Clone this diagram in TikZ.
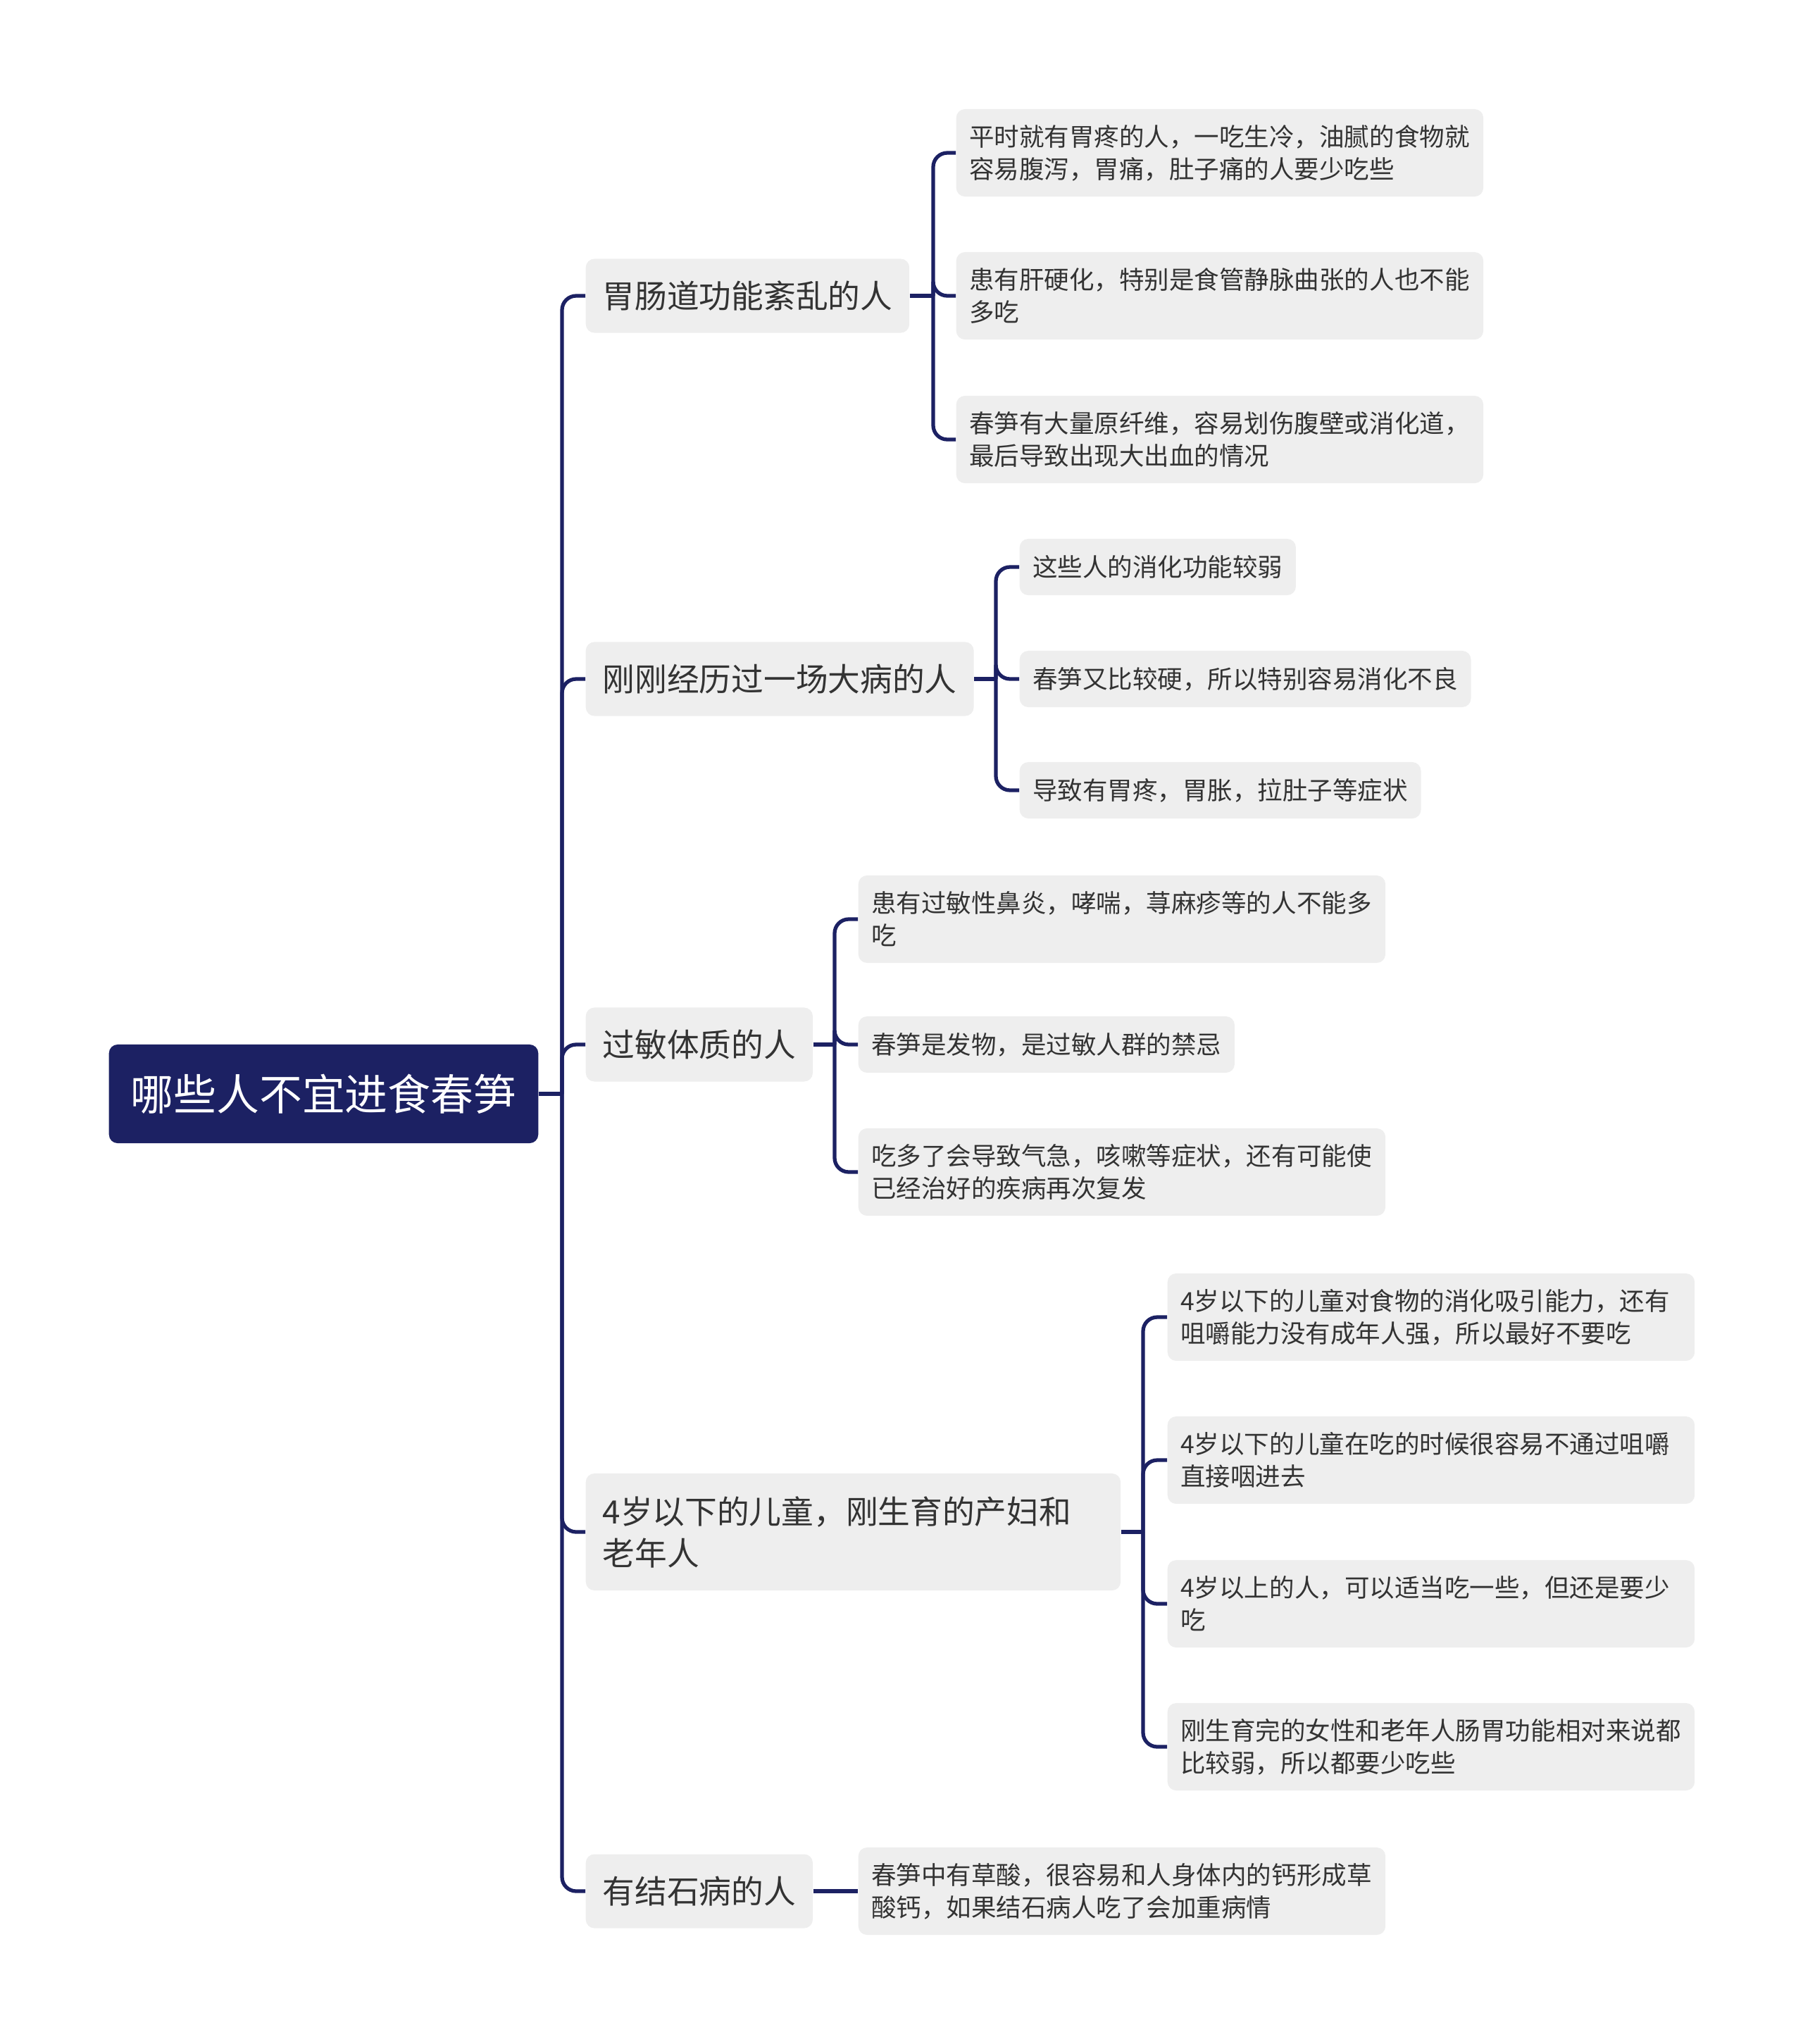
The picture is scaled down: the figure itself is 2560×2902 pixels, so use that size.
\documentclass[tikz,border=0pt]{standalone}
\usepackage{fontspec}
\setmainfont{Noto Sans CJK SC}
\usetikzlibrary{positioning}

\definecolor{navy}{HTML}{1C2163}
\definecolor{boxgray}{HTML}{EEEEEE}
\definecolor{inkgray}{HTML}{333333}

\begin{document}
\begin{tikzpicture}[x=0.01cm, y=-0.01cm,
	topic/.style={anchor=west, fill=navy, text=white, rounded corners=3.5pt, inner xsep=0.31cm, minimum height=1.4cm, font=\fontsize{17.3pt}{21pt}\selectfont},
	branch/.style={anchor=west, fill=boxgray, text=inkgray, rounded corners=3.5pt, inner xsep=0.24cm, minimum height=1.05cm, font=\fontsize{13pt}{16.8pt}\selectfont},
	leaf/.style={anchor=west, fill=boxgray, text=inkgray, rounded corners=3.5pt, inner xsep=0.185cm, minimum height=0.8cm, font=\fontsize{10.1pt}{13.1pt}\selectfont},
	wide/.style={text width=7.11cm, align=left, minimum height=1.24cm},
	link/.style={draw=navy, line width=1.5pt, rounded corners=0.2cm}]
			\useasboundingbox (0,0) rectangle (2560,2902);
			
			% Central topic
			\node (root) at (154,1553) [topic] {哪些人不宜进食春笋};
			
			% First level
			\node (g1) at (831,420) [branch] {胃肠道功能紊乱的人};
			\node (g2) at (831,964) [branch] {刚刚经历过一场大病的人};
			\node (g3) at (831,1483) [branch] {过敏体质的人};
			\node (g4) at (831,2175) [branch, wide, minimum height=1.66cm] {4岁以下的儿童，刚生育的产妇和\\老年人};
			\node (g5) at (831,2685) [branch] {有结石病的人};
			
			% Leaves of g1
			\node (g1a) at (1357,217) [leaf, wide] {平时就有胃疼的人，一吃生冷，油腻的食物就\\容易腹泻，胃痛，肚子痛的人要少吃些};
			\node (g1b) at (1357,420) [leaf, wide] {患有肝硬化，特别是食管静脉曲张的人也不能\\多吃};
			\node (g1c) at (1357,624) [leaf, wide] {春笋有大量原纤维，容易划伤腹壁或消化道，\\最后导致出现大出血的情况};
			
			% Leaves of g2
			\node (g2a) at (1447,805) [leaf] {这些人的消化功能较弱};
			\node (g2b) at (1447,964) [leaf] {春笋又比较硬，所以特别容易消化不良};
			\node (g2c) at (1447,1122) [leaf] {导致有胃疼，胃胀，拉肚子等症状};
			
			% Leaves of g3
			\node (g3a) at (1218,1305) [leaf, wide] {患有过敏性鼻炎，哮喘，荨麻疹等的人不能多\\吃};
			\node (g3b) at (1218,1483) [leaf] {春笋是发物，是过敏人群的禁忌};
			\node (g3c) at (1218,1664) [leaf, wide] {吃多了会导致气急，咳嗽等症状，还有可能使\\已经治好的疾病再次复发};
			
			% Leaves of g4
			\node (g4a) at (1657,1870) [leaf, wide] {4岁以下的儿童对食物的消化吸引能力，还有\\咀嚼能力没有成年人强，所以最好不要吃};
			\node (g4b) at (1657,2073) [leaf, wide] {4岁以下的儿童在吃的时候很容易不通过咀嚼\\直接咽进去};
			\node (g4c) at (1657,2277) [leaf, wide] {4岁以上的人，可以适当吃一些，但还是要少\\吃};
			\node (g4d) at (1657,2480) [leaf, wide] {刚生育完的女性和老年人肠胃功能相对来说都\\比较弱，所以都要少吃些};
			
			% Leaf of g5
			\node (g5a) at (1218,2685) [leaf, wide] {春笋中有草酸，很容易和人身体内的钙形成草\\酸钙，如果结石病人吃了会加重病情};
			
			% Junction points
			\coordinate (t0) at (798,1553);
			\coordinate (t1) at (1325,420);
			\coordinate (t2) at (1414,964);
			\coordinate (t3) at (1185,1483);
			\coordinate (t4) at (1623,2175);
			
			% Connectors
			\draw[link] (root.east) -- (t0);
			\foreach \n in {g1,g2,g3,g4,g5}
				\draw[link] (t0) |- (\n.west);
			\draw[link] (g1.east) -- (t1);
			\foreach \n in {g1a,g1b,g1c}
				\draw[link] (t1) |- (\n.west);
			\draw[link] (g2.east) -- (t2);
			\foreach \n in {g2a,g2b,g2c}
				\draw[link] (t2) |- (\n.west);
			\draw[link] (g3.east) -- (t3);
			\foreach \n in {g3a,g3b,g3c}
				\draw[link] (t3) |- (\n.west);
			\draw[link] (g4.east) -- (t4);
			\foreach \n in {g4a,g4b,g4c,g4d}
				\draw[link] (t4) |- (\n.west);
			\draw[link] (g5.east) -- (g5a.west);
		\end{tikzpicture}
\end{document}
